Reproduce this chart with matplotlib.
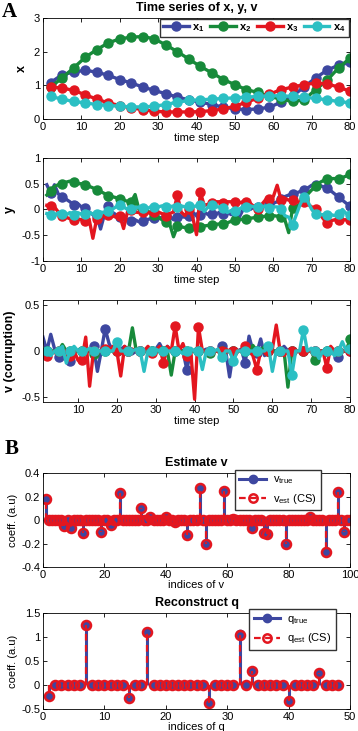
import numpy as np
import matplotlib
matplotlib.use("Agg")
import matplotlib.pyplot as plt
from matplotlib.lines import Line2D

plt.rcParams['font.family'] = ['Liberation Sans', 'DejaVu Sans']
plt.rcParams['mathtext.default'] = 'regular'
plt.rcParams['axes.unicode_minus'] = False
plt.rcParams['font.size'] = 8

BLUE = "#3d47a0"
GREEN = "#178a3a"
RED = "#e3161f"
CYAN = "#2bbfc3"
colors = [BLUE, GREEN, RED, CYAN]
names = ["x$_1$", "x$_2$", "x$_3$", "x$_4$"]

# ---- panel A: x (sampled every 3rd step) ----
t_x = np.arange(2, 81, 3)
x1 = [1.08, 1.32, 1.39, 1.45, 1.39, 1.30, 1.17, 1.07, 0.95, 0.85, 0.75, 0.65, 0.57, 0.50,
      0.43, 0.35, 0.30, 0.28, 0.30, 0.35, 0.50, 0.68, 0.95, 1.22, 1.45, 1.60, 1.68]
x2 = [0.95, 1.22, 1.52, 1.83, 2.06, 2.26, 2.38, 2.43, 2.45, 2.38, 2.20, 2.00, 1.78, 1.56,
      1.37, 1.17, 1.02, 0.87, 0.79, 0.67, 0.59, 0.52, 0.57, 0.87, 1.15, 1.52, 1.81]
x3 = [0.95, 0.92, 0.85, 0.72, 0.59, 0.48, 0.40, 0.33, 0.28, 0.23, 0.21, 0.21, 0.21, 0.22,
      0.25, 0.30, 0.38, 0.50, 0.62, 0.74, 0.87, 0.95, 1.02, 1.07, 1.04, 0.95, 0.82]
x4 = [0.67, 0.59, 0.52, 0.48, 0.43, 0.40, 0.38, 0.36, 0.36, 0.38, 0.43, 0.50, 0.55, 0.57,
      0.59, 0.61, 0.63, 0.65, 0.67, 0.69, 0.69, 0.67, 0.65, 0.61, 0.57, 0.52, 0.48]

# ---- y and v (every time step 1..80) ----
t = np.arange(1, 81)
y1 = [0.48, 0.32, 0.48, 0.30, 0.25, 0.20, 0.15, 0.09, 0.12, 0.05,
      0.03, -0.05, -0.10, -0.12, -0.38, -0.10, 0.06, -0.05, -0.10, -0.15,
      -0.18, -0.20, -0.22, -0.20, -0.24, -0.22, -0.20, -0.18, -0.17, -0.18,
      -0.15, -0.16, -0.12, -0.20, -0.15, -0.14, -0.15, -0.13, -0.05, -0.12,
      -0.10, -0.05, -0.10, -0.08, -0.10, -0.05, -0.08, -0.05, -0.10, -0.05,
      -0.17, -0.02, 0.08, 0.00, 0.05, 0.05, 0.08, 0.05, 0.10, 0.12,
      0.15, 0.20, 0.25, 0.28, 0.30, 0.32, 0.35, 0.38, 0.42, 0.47,
      0.48, 0.47, 0.44, 0.42, 0.36, 0.30, 0.24, 0.18, 0.12, 0.07]
y2 = [0.28, 0.35, 0.45, 0.48, 0.50, 0.53, 0.55, 0.53, 0.50, 0.50,
      0.47, 0.45, 0.42, 0.38, 0.35, 0.31, 0.27, 0.25, 0.23, 0.21,
      0.18, 0.16, 0.15, 0.29, 0.00, -0.02, -0.04, -0.05, -0.10, -0.15,
      -0.20, -0.24, -0.28, -0.53, -0.33, -0.34, -0.35, -0.36, -0.36, -0.35,
      -0.34, -0.32, -0.31, -0.30, -0.29, -0.28, -0.28, -0.26, -0.23, -0.21,
      -0.20, -0.19, -0.18, -0.17, -0.16, -0.15, -0.14, -0.13, -0.12, -0.12,
      -0.13, -0.14, -0.20, -0.45, 0.02, 0.05, 0.12, 0.20, 0.30, 0.38,
      0.45, 0.52, 0.56, 0.60, 0.60, 0.60, 0.60, 0.62, 0.65, 0.68]
y3 = [0.08, 0.06, 0.05, -0.05, -0.12, -0.15, -0.18, -0.20, -0.18, -0.20,
      -0.22, -0.18, -0.56, -0.18, -0.15, -0.12, -0.10, -0.12, -0.15, -0.12,
      -0.37, -0.05, -0.02, -0.05, -0.06, -0.05, -0.05, -0.08, -0.05, -0.05,
      -0.08, -0.12, -0.08, -0.05, 0.28, -0.05, -0.12, 0.00, -0.15, -0.49,
      0.33, 0.08, 0.10, 0.12, 0.15, 0.15, 0.13, 0.15, 0.15, 0.15,
      0.12, 0.15, 0.15, 0.12, 0.05, 0.00, 0.10, 0.19, 0.20, 0.25,
      0.47, 0.19, 0.22, 0.18, 0.19, 0.15, 0.14, 0.14, 0.10, 0.05,
      0.00, -0.08, -0.18, -0.27, -0.22, -0.20, -0.20, -0.20, -0.20, -0.20]
y4 = [-0.08, -0.10, -0.13, -0.06, -0.09, -0.11, -0.06, -0.10, -0.06, -0.09,
      -0.08, -0.05, -0.09, -0.08, -0.05, -0.06, -0.03, 0.00, 0.05, 0.08,
      0.05, 0.00, 0.00, 0.03, 0.05, 0.03, 0.01, 0.05, 0.05, 0.05,
      0.07, 0.05, 0.05, 0.07, 0.05, 0.07, 0.05, 0.07, 0.05, 0.07,
      0.09, -0.04, 0.05, 0.08, 0.05, 0.05, 0.03, -0.06, -0.02, -0.03,
      0.00, 0.05, 0.05, 0.07, 0.05, 0.05, 0.05, 0.07, 0.03, 0.05,
      0.05, 0.00, -0.12, -0.15, -0.30, -0.10, 0.10, 0.25, 0.15, 0.00,
      -0.08, -0.10, -0.10, -0.11, -0.10, -0.12, -0.08, 0.00, -0.08, -0.10]

v1 = [0.15, 0.00, 0.18, 0.02, -0.06, 0.00, -0.02, -0.11, 0.00, 0.00,
      0.00, -0.02, 0.00, 0.05, -0.22, 0.00, 0.24, 0.08, 0.00, 0.00,
      0.02, 0.05, 0.00, -0.03, 0.00, 0.00, 0.00, 0.00, 0.00, 0.02,
      0.08, 0.00, 0.05, 0.00, 0.00, 0.02, 0.00, -0.20, 0.00, 0.00,
      0.00, 0.00, 0.02, 0.00, 0.00, 0.00, 0.05, 0.00, -0.28, 0.00,
      0.00, 0.02, -0.13, 0.16, 0.00, -0.02, 0.13, -0.05, 0.00, 0.00,
      0.00, 0.00, 0.05, 0.00, 0.00, 0.00, 0.00, 0.00, 0.00, 0.02,
      0.00, 0.00, 0.00, 0.00, 0.00, 0.00, -0.07, 0.00, 0.00, 0.00]
v2 = [0.00, 0.00, 0.00, 0.00, 0.00, 0.07, 0.00, 0.00, 0.00, 0.00,
      0.00, 0.00, 0.00, -0.03, 0.00, 0.00, 0.00, 0.00, 0.00, 0.00,
      0.00, 0.00, 0.00, 0.25, 0.00, 0.00, 0.00, 0.00, 0.00, 0.00,
      0.00, 0.00, 0.00, -0.26, 0.00, 0.00, 0.00, 0.00, 0.00, 0.00,
      0.00, 0.00, 0.00, -0.02, 0.00, 0.00, 0.00, 0.00, 0.00, 0.00,
      0.00, 0.00, 0.00, 0.00, 0.06, 0.00, 0.00, 0.05, 0.00, 0.00,
      0.00, 0.00, 0.00, -0.39, 0.00, 0.00, 0.00, 0.00, 0.00, 0.00,
      -0.10, 0.00, 0.00, 0.00, 0.00, 0.00, 0.00, 0.00, 0.00, 0.13]
v3 = [-0.05, -0.05, 0.00, -0.02, 0.00, 0.00, 0.00, -0.05, 0.00, -0.10,
      -0.10, 0.15, -0.38, 0.00, 0.00, 0.00, 0.02, 0.00, 0.05, 0.00,
      -0.27, 0.05, 0.00, 0.02, 0.00, 0.00, 0.00, 0.05, -0.02, 0.00,
      0.05, -0.13, 0.05, 0.00, 0.27, 0.00, 0.08, -0.05, 0.00, -0.52,
      0.26, 0.00, 0.00, 0.00, 0.00, 0.00, 0.00, 0.02, 0.00, 0.00,
      0.00, 0.00, 0.05, 0.00, -0.05, -0.20, 0.00, 0.00, 0.00, 0.02,
      0.28, 0.00, -0.05, 0.00, 0.00, 0.00, 0.00, 0.00, 0.00, 0.00,
      0.00, 0.00, 0.00, -0.18, 0.05, 0.00, 0.00, 0.00, 0.00, 0.00]
v4 = [0.00, 0.00, -0.05, 0.00, 0.00, 0.05, -0.13, 0.00, 0.05, 0.00,
      0.00, 0.00, 0.03, 0.00, 0.00, 0.00, 0.00, 0.00, 0.00, 0.10,
      0.00, 0.00, 0.00, 0.00, 0.02, 0.00, -0.22, 0.00, 0.00, 0.02,
      0.00, 0.00, 0.00, 0.00, 0.00, 0.00, -0.03, 0.00, 0.03, 0.00,
      0.00, -0.20, 0.00, 0.00, 0.00, 0.02, -0.07, 0.00, 0.00, -0.11,
      0.00, 0.00, 0.00, 0.00, 0.00, 0.00, 0.00, 0.00, 0.05, -0.22,
      0.00, 0.00, 0.00, 0.00, -0.26, 0.00, 0.00, 0.23, 0.00, 0.03,
      0.00, -0.08, 0.00, 0.00, 0.00, -0.05, 0.00, 0.10, 0.00, 0.02]

# ---- panel B: sparse vectors (nonzero entries) ----
v_len = 100
v_nz_idx = [1, 7, 9, 13, 19, 22, 25, 32, 35, 40, 43, 47, 51, 53, 59, 62, 68, 72, 73,
            79, 87, 92, 96, 98]
v_nz_val = [0.18, -0.05, -0.07, -0.11, -0.10, -0.04, 0.23, 0.10, 0.03, 0.03, -0.02, -0.13,
            0.27, -0.20, 0.25, 0.01, -0.065, -0.11, -0.12, -0.20, 0.03, -0.27, 0.24, -0.10]
q_len = 48
q_nz_idx = [1, 7, 14, 17, 27, 32, 34, 40, 45]
q_true_val = [-0.22, 1.26, -0.27, 1.11, -0.37, 1.07, 0.30, -0.33, 0.25]
q_est_val = [-0.22, 1.26, -0.27, 1.11, -0.37, 1.04, 0.30, -0.33, 0.25]


def style(ax):
    ax.tick_params(direction='in', top=True, right=True, length=3, width=0.6, labelsize=8, pad=2)
    for s in ax.spines.values():
        s.set_linewidth(0.6)


def lines_panel(ax, tt, series, every):
    for vals, c, lab in zip(series, colors, names):
        ax.plot(tt, vals, '-o', color=c, lw=2.4, ms=6.5, markevery=every, label=lab)
    style(ax)


def stem_panel(ax, n, idx, true_vals, est_vals):
    pos = np.arange(1, n + 1)
    true = np.zeros(n)
    est = np.zeros(n)
    true[np.array(idx) - 1] = true_vals
    est[np.array(idx) - 1] = est_vals
    m, s, b = ax.stem(pos, true, linefmt='-', markerfmt='o', basefmt=' ')
    s.set_color(BLUE)
    s.set_linewidth(2.2)
    m.set_color(BLUE)
    m.set_markersize(6)
    b.set_visible(False)
    m2, s2, b2 = ax.stem(pos, est, linefmt='--', markerfmt='o', basefmt=' ')
    s2.set_color(RED)
    s2.set_linewidth(1.6)
    s2.set_linestyle((0, (3, 2)))
    m2.set_color(RED)
    m2.set_markerfacecolor('none')
    m2.set_markeredgewidth(1.8)
    m2.set_markersize(6.5)
    b2.set_visible(False)
    handles = [Line2D([], [], color=BLUE, lw=2.2, marker='o', ms=6),
               Line2D([], [], color=RED, lw=1.6, ls=(0, (3, 2)), marker='o', ms=6,
                      mfc='none', mew=1.8)]
    style(ax)
    return handles


fig = plt.figure(figsize=(3.58, 7.31), dpi=100)
L, W = 0.120, 0.858

ax1 = fig.add_axes([L, 0.8372, W, 0.1382])
lines_panel(ax1, t_x, [x1, x2, x3, x4], None)
ax1.set_xlim(0, 80)
ax1.set_ylim(0, 3)
ax1.set_yticks([0, 1, 2, 3])
ax1.set_xlabel("time step", labelpad=1)
ax1.set_ylabel("x", fontweight='bold', fontsize=9)
ax1.set_title("Time series of x, y, v", fontweight='bold', fontsize=9, pad=5)
ax1.legend(loc='upper right', bbox_to_anchor=(1.013, 1.045), ncol=4,
           prop={'weight': 'bold', 'size': 8}, handlelength=2.3, columnspacing=0.5,
           handletextpad=0.3, borderpad=0.3, fancybox=False, edgecolor='#333333',
           framealpha=1)

ax2 = fig.add_axes([L, 0.6430, W, 0.1409])
lines_panel(ax2, t, [y1, y2, y3, y4], slice(1, None, 3))
ax2.set_xlim(0, 80)
ax2.set_ylim(-1, 1)
ax2.set_yticks([-1, -0.5, 0, 0.5, 1])
ax2.set_yticklabels(["-1", "-0.5", "0", "0.5", "1"])
ax2.set_xlabel("time step", labelpad=1)
ax2.set_ylabel("y", fontweight='bold', fontsize=9)

ax3 = fig.add_axes([L, 0.4501, W, 0.1395])
lines_panel(ax3, t, [v1, v2, v3, v4], slice(1, None, 3))
ax3.set_xlim(1, 80)
ax3.set_ylim(-0.55, 0.55)
ax3.set_xticks(range(10, 81, 10))
ax3.set_yticks([-0.5, 0, 0.5])
ax3.set_yticklabels(["-0.5", "0", "0.5"])
ax3.set_xlabel("time step", labelpad=1)
ax3.set_ylabel("v (corruption)", fontweight='bold', fontsize=9)

ax4 = fig.add_axes([L, 0.2243, W, 0.1286])
h = stem_panel(ax4, v_len, v_nz_idx, v_nz_val, v_nz_val)
ax4.set_xlim(0, 100)
ax4.set_ylim(-0.4, 0.4)
ax4.set_yticks([-0.4, -0.2, 0, 0.2, 0.4])
ax4.set_yticklabels(["-0.4", "-0.2", "0", "0.2", "0.4"])
ax4.set_xlabel("indices of v", labelpad=0)
ax4.set_ylabel("coeff. (a.u)", labelpad=2)
ax4.set_title("Estimate v", fontweight='bold', fontsize=9, pad=5)
ax4.legend(h, ["v$_{true}$", "v$_{est}$ (CS)"], loc='upper right', bbox_to_anchor=(0.922, 1.09),
           fontsize=8, handlelength=2.4, handletextpad=0.6, borderpad=0.4, labelspacing=0.5,
           fancybox=False, edgecolor='#333333', framealpha=1)

ax5 = fig.add_axes([L, 0.0301, W, 0.1313])
h = stem_panel(ax5, q_len, q_nz_idx, q_true_val, q_est_val)
ax5.set_xlim(0, 50)
ax5.set_ylim(-0.5, 1.5)
ax5.set_yticks([-0.5, 0, 0.5, 1, 1.5])
ax5.set_yticklabels(["-0.5", "0", "0.5", "1", "1.5"])
ax5.set_xlabel("indices of q", labelpad=0)
ax5.set_ylabel("coeff. (a.u)", labelpad=2)
ax5.set_title("Reconstruct q", fontweight='bold', fontsize=9, pad=5)
ax5.legend(h, ["q$_{true}$", "q$_{est}$ (CS)"], loc='upper right', bbox_to_anchor=(0.971, 1.095),
           fontsize=8, handlelength=2.4, handletextpad=0.6, borderpad=0.4, labelspacing=0.5,
           fancybox=False, edgecolor='#333333', framealpha=1)

fig.text(0.005, 0.997, "A", fontsize=15, fontweight='bold', family='Liberation Serif', va='top')
fig.text(0.012, 0.400, "B", fontsize=15, fontweight='bold', family='Liberation Serif', va='top')

fig.savefig("out.png", dpi=100)
